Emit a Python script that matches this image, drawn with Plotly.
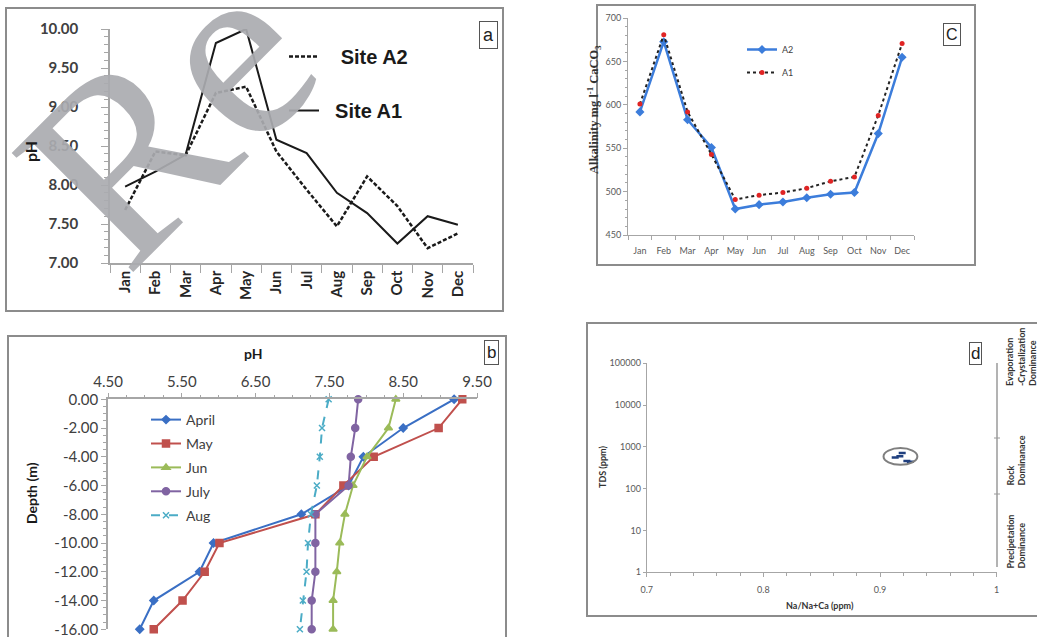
import math
import plotly.graph_objects as go

W, H = 1037, 637
def fx(p): return p / W
def fy(p): return 1 - p / H

# ---------------- data ----------------
months = ["Jan", "Feb", "Mar", "Apr", "May", "Jun", "Jul", "Aug", "Sep", "Oct", "Nov", "Dec"]

# panel a : pH per month
ph_site_a1 = [7.98, 8.17, 8.39, 9.82, 10.0, 8.58, 8.41, 7.90, 7.64, 7.25, 7.60, 7.49]
ph_site_a2 = [7.68, 8.43, 8.38, 9.18, 9.26, 8.43, 7.94, 7.47, 8.11, 7.73, 7.19, 7.38]

# panel b : pH profile with depth
depth = [0, -2, -4, -6, -8, -10, -12, -14, -16]
depth_labels = ["0.00", "-2.00", "-4.00", "-6.00", "-8.00", "-10.00", "-12.00", "-14.00", "-16.00"]
ph_april = [9.19, 8.50, 7.96, 7.76, 7.12, 5.93, 5.74, 5.12, 4.93]
ph_may = [9.30, 8.98, 8.10, 7.69, 7.31, 6.01, 5.81, 5.51, 5.12]
ph_jun = [8.40, 8.30, 8.01, 7.82, 7.71, 7.64, 7.60, 7.55, 7.55]
ph_july = [7.89, 7.85, 7.79, 7.76, 7.31, 7.31, 7.31, 7.26, 7.26]
ph_aug = [7.49, 7.40, 7.37, 7.33, 7.25, 7.21, 7.19, 7.14, 7.10]

# panel c : alkalinity
alk_a2 = [592, 673, 583, 551, 480, 485, 488, 493, 497, 499, 567, 655]
alk_a1 = [601, 681, 592, 543, 491, 496, 499, 504, 512, 517, 588, 671]

# panel d : Gibbs diagram
na_ratio = [0.913, 0.917, 0.919, 0.923, 0.926]
tds = [560, 600, 710, 460, 440]
tds_ticks = [1, 10, 100, 1000, 10000, 100000]

FONT = "Lato"
SERIF = "Liberation Serif"
NB = "\u00a0"

fig = go.Figure()

# ---- panel a ----
fig.add_trace(go.Scatter(x=months, y=ph_site_a2, mode="lines", name=NB * 3 + "Site A2",
                         line=dict(color="#1a1a1a", width=2.5, dash="4px,2px"),
                         xaxis="x", yaxis="y", legend="legend", legendgroup="a2"))
fig.add_trace(go.Scatter(x=months, y=ph_site_a1, mode="lines", name=NB * 2 + "Site A1",
                         line=dict(color="#1a1a1a", width=2),
                         xaxis="x", yaxis="y", legend="legend", legendgroup="a1"))

# ---- panel b ----
b_series = [
    ("April", ph_april, "#3a6fc4", "diamond", 6, "solid"),
    ("May", ph_may, "#c0504d", "square", 7, "solid"),
    ("Jun", ph_jun, "#9bbb59", "triangle-up", 7, "solid"),
    ("July", ph_july, "#8064a2", "circle", 7, "solid"),
    ("Aug", ph_aug, "#4bacc6", "x-thin-open", 6, "dash"),
]
for name, vals, col, sym, sz, dash in b_series:
    fig.add_trace(go.Scatter(x=vals, y=depth, mode="lines+markers", name=name,
                             line=dict(color=col, width=2, dash=dash),
                             marker=dict(symbol=sym, size=sz, color=col, line=dict(color=col, width=1.5)),
                             cliponaxis=False,
                             xaxis="x2", yaxis="y2", legend="legend2", legendgroup=name))

# ---- panel c ----
fig.add_trace(go.Scatter(x=months, y=alk_a2, mode="lines+markers", name="A2",
                         line=dict(color="#3c7ddb", width=2.5),
                         marker=dict(symbol="diamond", size=7, color="#3c7ddb"),
                         cliponaxis=False,
                         xaxis="x3", yaxis="y3", legend="legend3", legendgroup="c2"))
fig.add_trace(go.Scatter(x=months, y=alk_a1, mode="lines+markers", name="A1",
                         line=dict(color="#222222", width=2, dash="dot"),
                         marker=dict(symbol="circle", size=5, color="#e02424"),
                         cliponaxis=False,
                         xaxis="x3", yaxis="y3", legend="legend3", legendgroup="c1"))

# ---- panel d ----
fig.add_trace(go.Scatter(x=na_ratio, y=tds, mode="markers", showlegend=False,
                         marker=dict(symbol="line-ew", size=5, color="#1f3f7f",
                                     line=dict(color="#1f3f7f", width=2.5)),
                         xaxis="x4", yaxis="y4"))

# ellipse around the cluster
lmin, lmax = math.log10(min(tds)), math.log10(max(tds))
shapes = [
    dict(type="circle", xref="x4", yref="y4",
         x0=min(na_ratio) - 0.010, x1=max(na_ratio) + 0.006,
         y0=10 ** (lmin - 0.07), y1=10 ** (lmax + 0.12),
         line=dict(color="#7f7f7f", width=2)),
]

# panel frames
frame = dict(color="#8c8c8c", width=2)
for (x0, y0, x1, y1) in [(6, 8, 503, 311), (8, 336, 506, 645), (597, 5, 975, 265), (587, 323, 1045, 616)]:
    shapes.append(dict(type="rect", xref="paper", yref="paper",
                       x0=fx(x0), x1=fx(x1), y0=fy(y1), y1=fy(y0),
                       line=frame, layer="below"))

# panel d right-hand scale line
shapes.append(dict(type="line", xref="paper", yref="paper", x0=fx(997), x1=fx(997),
                   y0=fy(567), y1=fy(363), line=dict(color="#9a9a9a", width=1.5)))
for yy in (438, 494):
    shapes.append(dict(type="line", xref="paper", yref="paper", x0=fx(994), x1=fx(1000),
                       y0=fy(yy), y1=fy(yy), line=dict(color="#9a9a9a", width=1)))

axis_line = "#a6a6a6"
common = dict(showgrid=False, zeroline=False, showline=True, linecolor=axis_line, linewidth=1.5,
              tickcolor=axis_line, ticks="outside", automargin=False, ticklabeloverflow="allow")

layout = dict(
    template="none",
    width=W, height=H, margin=dict(l=0, r=0, t=0, b=0, pad=0),
    paper_bgcolor="white", plot_bgcolor="rgba(0,0,0,0)",
    font=dict(family=FONT, color="#404040"),
    # panel a
    xaxis=dict(common, type="category", range=[-0.5, 11.5], domain=[fx(110), fx(473)], anchor="y",
               tickson="boundaries", ticklen=8, tickangle=-90,
               tickfont=dict(size=15, color="#262626", weight="bold")),
    yaxis=dict(common, range=[7, 10], domain=[fy(263), fy(29)], anchor="x", dtick=0.5, tickformat=".2f",
               ticklen=7, ticklabelstandoff=20,
               minor=dict(dtick=0.1, ticks="outside", ticklen=4, tickcolor=axis_line),
               tickfont=dict(size=15, color="#404040", weight="bold")),
    # panel b
    xaxis2=dict(common, side="top", range=[4.5, 9.5], tick0=4.5, dtick=1, tickformat=".2f",
                domain=[fx(108), fx(477)], anchor="y2", ticklen=5,
                minor=dict(dtick=0.25, ticks="outside", ticklen=3, tickcolor=axis_line),
                tickfont=dict(size=15, color="#404040")),
    yaxis2=dict(common, range=[-16, 0], domain=[fy(629.3), fy(399.3)], anchor="x2",
                tickvals=depth, ticktext=depth_labels, ticklen=5,
                minor=dict(dtick=0.5, ticks="outside", ticklen=3, tickcolor=axis_line),
                tickfont=dict(size=15, color="#404040")),
    # panel c
    xaxis3=dict(common, type="category", range=[-0.5, 11.5], domain=[fx(628), fx(914)], anchor="y3",
                tickson="boundaries", ticklen=4, linewidth=1, tickangle=0, ticklabelstandoff=7,
                tickfont=dict(size=9, color="#595959")),
    yaxis3=dict(common, range=[450, 700], domain=[fy(235), fy(18.3)], anchor="x3", dtick=50,
                ticklen=4, linewidth=1,
                minor=dict(dtick=10, ticks="outside", ticklen=2, tickcolor=axis_line),
                tickfont=dict(size=9, color="#595959")),
    # panel d
    xaxis4=dict(common, range=[0.7, 1.0], dtick=0.1, domain=[fx(646.7), fx(996.7)], anchor="y4",
                ticklen=4, linewidth=1, ticklabelstandoff=5,
                minor=dict(dtick=0.02, ticks="outside", ticklen=3, tickcolor=axis_line),
                tickfont=dict(size=9, color="#595959")),
    yaxis4=dict(common, type="log", range=[0, 5], domain=[fy(572.3), fy(363.3)], anchor="x4",
                tickvals=tds_ticks, ticktext=[str(v) for v in tds_ticks], ticklen=3, linewidth=1,
                tickfont=dict(size=9, color="#595959")),
    # legends
    legend=dict(x=fx(284), y=fy(37), xanchor="left", yanchor="top", bgcolor="rgba(0,0,0,0)",
                font=dict(size=20, color="#1a1a1a", family="Liberation Sans", weight="bold"),
                tracegroupgap=25, itemwidth=30),
    legend2=dict(x=fx(146), y=fy(404), xanchor="left", yanchor="top", bgcolor="rgba(0,0,0,0)",
                 font=dict(size=14, color="#404040", family=FONT),
                 tracegroupgap=2.7, itemwidth=30),
    legend3=dict(x=fx(742), y=fy(35), xanchor="left", yanchor="top", bgcolor="rgba(0,0,0,0)",
                 font=dict(size=9, color="#404040", family=FONT),
                 tracegroupgap=4, itemwidth=30),
    shapes=shapes,
)
fig.update_layout(**layout)

ann = []

# watermark (drawn first, under the labels)
ann.append(dict(text="Re", x=fx(-40), y=fy(-93), xref="paper", yref="paper", showarrow=False,
                xanchor="left", yanchor="top", textangle=-45,
                font=dict(size=260, color="rgba(170,171,176,0.92)", family="Liberation Serif")))

def label_box(txt, x, y, size, pad):
    ann.append(dict(text=txt, x=fx(x), y=fy(y), xref="paper", yref="paper", showarrow=False,
                    xanchor="center", yanchor="middle",
                    font=dict(size=size, color="#222222", family="Liberation Sans"),
                    bordercolor="#555555", borderwidth=1, borderpad=pad, bgcolor="white"))

label_box("a", 488, 35, 18, 3)
label_box("b", 491, 352, 17, 2)
label_box("C", 952, 34, 16, 2)
label_box("d", 975, 353, 17, 1)

def text(t, x, y, size, angle=0, bold=True, family=FONT, color="#1a1a1a", xa="center", ya="middle", align="center"):
    ann.append(dict(text=t, x=fx(x), y=fy(y), xref="paper", yref="paper", showarrow=False,
                    textangle=angle, xanchor=xa, yanchor=ya, align=align,
                    font=dict(size=size, color=color, family=family, weight="bold" if bold else "normal")))

text("pH", 30, 152, 16, angle=-90)
text("pH", 253, 353, 14)
text("Depth (m)", 31, 493, 14, angle=-90)
text("Alkalinity mg l<sup>-1</sup> CaCO<sub>3</sub>", 594, 110, 12.5, angle=-90, family=SERIF, color="#333333")
text("TDS (ppm)", 602, 467, 9, angle=-90, color="#333333")
text("Na/Na+Ca (ppm)", 820, 605, 9, color="#333333")
text("Evaporation<br>-Crystalization<br>Dominance", 1002, 388, 9, angle=-90, color="#333333",
     xa="left", ya="bottom", align="left")
text("Rock<br>Dominanace", 1002, 488, 9, angle=-90, color="#333333", xa="left", ya="bottom", align="left")
text("Precipetation<br>Dominance", 1002, 571, 9, angle=-90, color="#333333", xa="left", ya="bottom", align="left")

fig.update_layout(annotations=ann)
fig.write_html("out.html")
